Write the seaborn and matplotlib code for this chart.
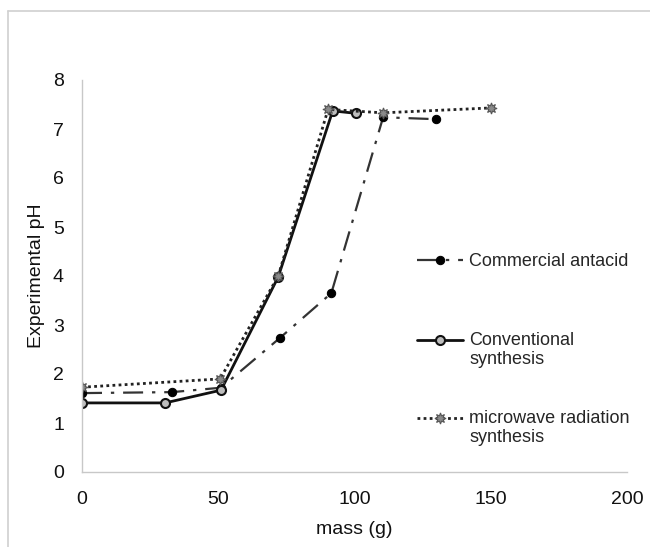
import matplotlib
matplotlib.use("Agg")
import matplotlib.pyplot as plt
import seaborn as sns
from matplotlib.lines import Line2D
from matplotlib.legend import Legend
from matplotlib.legend_handler import HandlerLine2D

sns.set_style("white")
plt.rcParams['font.family'] = ['Liberation Sans', 'DejaVu Sans']

com_x = [0, 33, 51, 72.5, 91.5, 110.5, 130]
com_y = [1.61, 1.63, 1.72, 2.73, 3.65, 7.24, 7.2]
conv_x = [0, 30.5, 51, 72, 92, 100.5]
conv_y = [1.41, 1.41, 1.67, 3.98, 7.37, 7.32]
mw_x = [0, 50.7, 72, 90.3, 110.4, 150]
mw_y = [1.73, 1.9, 4.0, 7.4, 7.33, 7.43]

labels = ["Commercial antacid", "Conventional\nsynthesis", "microwave radiation\nsynthesis"]

W, H = 650, 547
fig = plt.figure(figsize=(6.5, 5.47), dpi=100)
ax = fig.add_axes([82 / W, 1 - 472 / H, (627 - 82) / W, (472 - 80) / H])

sns.lineplot(x=com_x, y=com_y, ax=ax, color="#333333", linewidth=1.6,
             linestyle=(0, (9, 4, 1.5, 4)), marker="o", markersize=6,
             markerfacecolor="black", markeredgecolor="black",
             sort=False, legend=False)
sns.lineplot(x=conv_x, y=conv_y, ax=ax, color="#111111", linewidth=2.0,
             linestyle="-", marker="o", markersize=6.5,
             markerfacecolor="#bdbdbd", markeredgecolor="#111111", markeredgewidth=1.5,
             sort=False, legend=False)
sns.lineplot(x=mw_x, y=mw_y, ax=ax, color="#222222", linewidth=2.0,
             linestyle=(0, (1, 1.2)), marker=(8, 1, 0), markersize=8,
             markerfacecolor="#8a8a8a", markeredgecolor="#555555", markeredgewidth=0.8,
             sort=False, legend=False)

ax.set_xlim(0, 200)
ax.set_ylim(0, 8)
ax.set_xticks([0, 50, 100, 150, 200])
ax.set_yticks(range(0, 9))
ax.tick_params(axis='x', labelsize=14, length=0, pad=14, colors="#111111")
ax.tick_params(axis='y', labelsize=14, length=0, pad=13, colors="#111111")
for s in ["top", "right"]:
    ax.spines[s].set_visible(False)
for s in ["left", "bottom"]:
    ax.spines[s].set_color("#c8c8c8")
    ax.spines[s].set_linewidth(1.0)
ax.set_xlabel("mass (g)", fontsize=14, labelpad=9, color="#111111")
ax.set_ylabel("Experimental pH", fontsize=14, labelpad=6, color="#111111")


class ShiftedHandler(HandlerLine2D):
    def __init__(self, dy=0.0, **kw):
        super().__init__(**kw)
        self.dy = dy

    def create_artists(self, legend, orig_handle, xdescent, ydescent, width, height, fontsize, trans):
        arts = super().create_artists(legend, orig_handle, xdescent, ydescent, width, height, fontsize, trans)
        for a in arts:
            a.set_ydata([y + self.dy for y in a.get_ydata()])
        return arts


lines = ax.get_lines()
centers = [262, 350, 428]
shifts = [0, 7.2, 7.2]
for ln, lab, cy, dy in zip(lines, labels, centers, shifts):
    lg = Legend(ax, [ln], [lab], loc="center left", bbox_to_anchor=(417 / W, 1 - cy / H),
                bbox_transform=fig.transFigure, frameon=False, fontsize=13,
                handlelength=2.55, handletextpad=0.33, borderpad=0, borderaxespad=0,
                handler_map={ln: ShiftedHandler(dy=dy)})
    ax.add_artist(lg)

fig.add_artist(Line2D([8 / W, 8 / W], [0, 1 - 11 / H], transform=fig.transFigure,
                      color="#d0d0d0", linewidth=1.2))
fig.add_artist(Line2D([8 / W, 1], [1 - 11 / H, 1 - 11 / H], transform=fig.transFigure,
                      color="#d0d0d0", linewidth=1.2))

fig.savefig("out.png", dpi=100)
